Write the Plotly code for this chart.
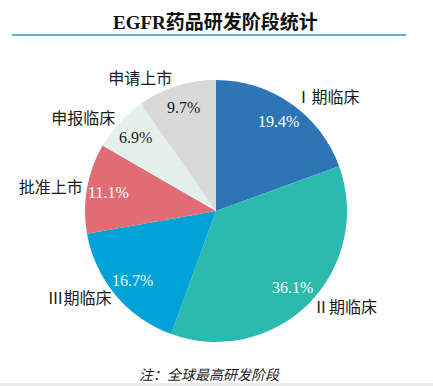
import numpy as np
import plotly.graph_objects as go

labels = ["Ⅰ期临床", "Ⅱ期临床", "Ⅲ期临床", "批准上市", "申报临床", "申请上市"]
counts = [14, 26, 12, 8, 5, 7]
colors = ["#2E75B6", "#2CBAAE", "#00A2D8", "#E06C76", "#E3F0EC", "#D9D9D9"]
pct_text_colors = ["#FFFFFF", "#FFFFFF", "#FFFFFF", "#FFFFFF", "#1A1A1A", "#1A1A1A"]

title_text = "EGFR药品研发阶段统计"
note_text = "注：全球最高研发阶段"

W, H = 433, 386
cx, cy, r = 216, 211, 131
dom_x = [(cx - r) / W, (cx + r) / W]
dom_y = [(H - cy - r) / H, (H - cy + r) / H]

serif = "Liberation Serif, Times New Roman, Noto Sans CJK SC, serif"

fig = go.Figure()
fig.add_trace(go.Pie(
    labels=labels, values=counts, sort=False, direction="clockwise", rotation=0,
    marker=dict(colors=colors, line=dict(width=0)),
    textinfo="label", textposition="outside",
    outsidetextfont=dict(family=serif, size=16, color="#1A1A1A"),
    domain=dict(x=dom_x, y=dom_y), showlegend=False, hoverinfo="skip",
))

# percentage labels placed on each slice's mid-angle, derived from the data
vals = np.array(counts, dtype=float)
frac = vals / vals.sum()
mid = (np.cumsum(frac) - frac / 2) * 2 * np.pi
rr = 0.83 * r
annotations = []
for f, a, c in zip(frac, mid, pct_text_colors):
    px = cx + rr * np.sin(a)
    py = cy - rr * np.cos(a)
    annotations.append(dict(
        text=f"{f * 100:.1f}%", x=px / W, y=1 - py / H, xref="paper", yref="paper",
        showarrow=False, xanchor="center", yanchor="middle",
        font=dict(family=serif, size=16, color=c)))

annotations += [
    dict(text="<b>" + title_text + "</b>", x=215 / W, y=1 - 22 / H, xref="paper", yref="paper",
         showarrow=False, xanchor="center", yanchor="middle",
         font=dict(family=serif, size=19, color="#111111")),
    dict(text="<i>" + note_text + "</i>", x=210 / W, y=1 - 375 / H, xref="paper", yref="paper",
         showarrow=False, xanchor="center", yanchor="middle",
         font=dict(family=serif, size=14, color="#222222")),
]

fig.update_layout(
    width=W, height=H, margin=dict(l=0, r=0, t=0, b=0),
    paper_bgcolor="white", plot_bgcolor="white",
    annotations=annotations,
    shapes=[
        dict(type="line", xref="paper", yref="paper", x0=12 / W, x1=406 / W,
             y0=1 - 35 / H, y1=1 - 35 / H, line=dict(color="#1E9BD7", width=1.5)),
        dict(type="rect", xref="paper", yref="paper", x0=0, x1=1, y0=0, y1=3 / H,
             fillcolor="#EBEBEB", line=dict(width=0), layer="below"),
    ],
)

fig.write_html("out.html", config={"displayModeBar": False},
               post_script="document.body.style.margin='0';document.body.style.overflow='hidden';")
